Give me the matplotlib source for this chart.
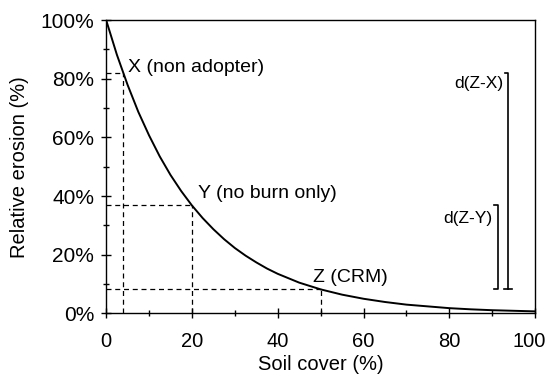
import matplotlib
matplotlib.use("Agg")
import matplotlib.pyplot as plt
import matplotlib.transforms as mtransforms
from matplotlib.ticker import MultipleLocator, PercentFormatter

plt.rcParams["font.family"] = ["Liberation Sans", "DejaVu Sans"]

# curve (soil cover %, relative erosion %)
cover = [0, 2.5, 5, 7.5, 10, 12.5, 15, 17.5, 20, 22.5, 25, 27.5, 30, 32.5, 35,
         37.5, 40, 45, 50, 55, 60, 65, 70, 75, 80, 85, 90, 95, 100]
erosion = [100, 88.2, 77.9, 68.7, 60.7, 53.5, 47.2, 41.7, 36.8, 32.5, 28.7,
           25.3, 22.3, 19.7, 17.4, 15.3, 13.5, 10.5, 8.2, 6.4, 5.0, 3.9, 3.0,
           2.4, 1.8, 1.4, 1.1, 0.9, 0.7]

# marked points
point_names = ["X (non adopter)", "Y (no burn only)", "Z (CRM)"]
point_cover = [4, 20, 50]
point_erosion = [81.9, 36.8, 8.2]

x_ticks = [0, 20, 40, 60, 80, 100]

fig, ax = plt.subplots(figsize=(5.5, 3.79), dpi=100)
fig.subplots_adjust(left=0.193, right=0.973, top=0.947, bottom=0.173)

ax.plot(cover, erosion, color="black", lw=1.4)

for px, py in zip(point_cover, point_erosion):
    ax.plot([px, px], [0, py], color="black", lw=0.9, ls=(0, (4, 3)))
    ax.plot([0, px], [py, py], color="black", lw=0.9, ls=(0, (4, 3)))

ax.text(5.2, 84, point_names[0], fontsize=14, va="center", ha="left")
ax.text(21.3, 41, point_names[1], fontsize=14, va="center", ha="left")
ax.text(48.3, 12.3, point_names[2], fontsize=14, va="center", ha="left")

# difference brackets
zx_x, zy_x = 93.7, 91.4
ax.plot([zx_x - 0.8, zx_x, zx_x], [point_erosion[0], point_erosion[0], point_erosion[2]],
        color="black", lw=1.2)
ax.plot([zx_x - 0.9, zx_x + 0.9], [point_erosion[2], point_erosion[2]], color="black", lw=1.2)
ax.plot([zy_x - 0.9, zy_x, zy_x, zy_x - 0.9],
        [point_erosion[1], point_erosion[1], point_erosion[2], point_erosion[2]],
        color="black", lw=1.2)
ax.text(92.5, 78.5, "d(Z-X)", fontsize=12.5, ha="right", va="center")
ax.text(90.0, 32.5, "d(Z-Y)", fontsize=12.5, ha="right", va="center")

ax.set_xlim(0, 100)
ax.set_ylim(0, 100)
ax.set_xticks(x_ticks)
ax.xaxis.set_minor_locator(MultipleLocator(10))
ax.yaxis.set_major_locator(MultipleLocator(20))
ax.yaxis.set_minor_locator(MultipleLocator(10))
ax.yaxis.set_major_formatter(PercentFormatter(decimals=0))
ax.tick_params(which="both", direction="inout", labelsize=15, width=1.0)
ax.tick_params(axis="x", labelsize=14.5)
ax.tick_params(which="major", length=7)
ax.tick_params(which="minor", length=5)
ax.tick_params(axis="x", pad=10)
ax.tick_params(axis="y", pad=5)
for s in ax.spines.values():
    s.set_linewidth(1.0)

ax.set_xlabel("Soil cover (%)", fontsize=14.5, labelpad=3)
ax.set_ylabel("Relative erosion (%)", fontsize=14.5, labelpad=8)

# keep the last x label inside the figure
fig.canvas.draw()
last = ax.xaxis.get_major_ticks()[-1].label1
last.set_transform(last.get_transform()
                   + mtransforms.ScaledTranslation(-6 / 100, 0, fig.dpi_scale_trans))

fig.savefig("out.png", dpi=100)
